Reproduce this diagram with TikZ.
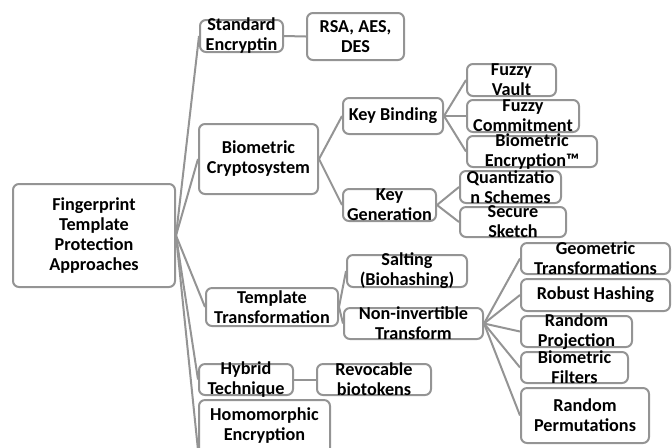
\documentclass[tikz,border=0pt]{standalone}
\usepackage{fontspec}
\setmainfont{Carlito}
\usepackage{tikz}
\definecolor{linegray}{RGB}{148,148,148}
\tikzstyle{box} = [rectangle, rounded corners=3pt, draw=linegray, line width=1pt, fill=white, inner sep=0pt]
\tikzstyle{lbl} = [align=center, inner sep=0pt, font=\bfseries\fontsize{9.1}{10}\selectfont]
\tikzstyle{link} = [draw=linegray, line width=1pt]

\begin{document}
\begin{tikzpicture}[x=0.5pt, y=-0.5pt]
% Page frame
    \useasboundingbox (0,0) rectangle (672,447);
    \clip (0,0) rectangle (672,447);

    % Root
    \node (root) at (94,235.5) [box, minimum width=81pt, minimum height=51.5pt, label={[lbl]center:{Fingerprint\\Template\\Protection\\Approaches}}] {};

    % Branch 1: Standard Encryptin
    \node (std) at (241.5,36) [box, minimum width=41.5pt, minimum height=16pt, label={[lbl]center:{Standard\\Encryptin}}] {};
    \node (rsa) at (355.5,36.5) [box, minimum width=48.5pt, minimum height=23.5pt, label={[lbl]center:{RSA, AES,\\DES}}] {};

    % Branch 2: Biometric Cryptosystem
    \node (bcs) at (258.5,159) [box, minimum width=59.5pt, minimum height=35pt, label={[lbl]center:{Biometric\\Cryptosystem}}] {};
    \node (kb) at (393,116) [box, minimum width=50pt, minimum height=18pt, label={[lbl]center:{Key Binding}}] {};
    \node (fv) at (511.5,80) [box, minimum width=44.5pt, minimum height=16pt, label={[lbl]center:{Fuzzy\\Vault}}] {};
    \node (fc) at (523,116) [box, minimum width=56pt, minimum height=16pt, label={[lbl]center:{Fuzzy\\Commitment}}] {};
    \node (be) at (532,151.5) [box, minimum width=65pt, minimum height=15.5pt, label={[lbl]center:{Biometric\\Encryption™}}] {};
    \node (kg) at (389.5,205) [box, minimum width=46.5pt, minimum height=16pt, label={[lbl]center:{Key\\Generation}}] {};
    \node (qs) at (510.5,187) [box, minimum width=50.5pt, minimum height=16pt, label={[lbl]center:{Quantizatio\\n Schemes}}] {};
    \node (ss) at (513,222) [box, minimum width=53pt, minimum height=15pt, label={[lbl]center:{Secure\\Sketch}}] {};

    % Branch 3: Template Transformation
    \node (tt) at (272,307) [box, minimum width=66pt, minimum height=19pt, label={[lbl]center:{Template\\Transformation}}] {};
    \node (salt) at (407,271) [box, minimum width=60pt, minimum height=16pt, label={[lbl]center:{Salting\\(Biohashing)}}] {};
    \node (ni) at (413.5,323.5) [box, minimum width=69.5pt, minimum height=15.5pt, label={[lbl]center:{Non-invertible\\Transform}}] {};
    \node (gt) at (595.5,258.5) [box, minimum width=74.5pt, minimum height=15.5pt, label={[lbl]center:{Geometric\\Transformations}}] {};
    \node (rh) at (595.5,295) [box, minimum width=74.5pt, minimum height=16pt, label={[lbl]center:{Robust Hashing}}] {};
    \node (rp) at (576.5,331.5) [box, minimum width=55.5pt, minimum height=15.5pt, label={[lbl]center:{Random\\Projection}}] {};
    \node (bf) at (574.5,367.5) [box, minimum width=53.5pt, minimum height=15.5pt, label={[lbl]center:{Biometric\\Filters}}] {};
    \node (rperm) at (585,415.5) [box, minimum width=64pt, minimum height=27.5pt, label={[lbl]center:{Random\\Permutations}}] {};

    % Branch 4: Hybrid Technique
    \node (hy) at (246,379.5) [box, minimum width=47pt, minimum height=15.5pt, label={[lbl]center:{Hybrid\\Technique}}] {};
    \node (rev) at (374,379.5) [box, minimum width=57pt, minimum height=15.5pt, label={[lbl]center:{Revocable\\biotokens}}] {};

    % Branch 5: Homomorphic Encryption (runs off the page)
    \node (homo) at (264.5,450) [box, minimum width=65.5pt, minimum height=50pt, label={[lbl, anchor=north, yshift=-4pt]north:{Homomorphic\\Encryption}}] {};

    % Connectors
    \draw[link] (root.east) -- (std.west);
    \draw[link] (root.east) -- (bcs.west);
    \draw[link] (root.east) -- (tt.west);
    \draw[link] (root.east) -- (hy.west);
    \draw[link] (root.east) -- (homo.west);
    \draw[link] (std.east) -- (rsa.west);
    \draw[link] (bcs.east) -- (kb.west);
    \draw[link] (bcs.east) -- (kg.west);
    \draw[link] (kb.east) -- (fv.west);
    \draw[link] (kb.east) -- (fc.west);
    \draw[link] (kb.east) -- (be.west);
    \draw[link] (kg.east) -- (qs.west);
    \draw[link] (kg.east) -- (ss.west);
    \draw[link] (tt.east) -- (salt.west);
    \draw[link] (tt.east) -- (ni.west);
    \draw[link] (ni.east) -- (gt.west);
    \draw[link] (ni.east) -- (rh.west);
    \draw[link] (ni.east) -- (rp.west);
    \draw[link] (ni.east) -- (bf.west);
    \draw[link] (ni.east) -- (rperm.west);
    \draw[link] (hy.east) -- (rev.west);

\end{tikzpicture}
\end{document}
